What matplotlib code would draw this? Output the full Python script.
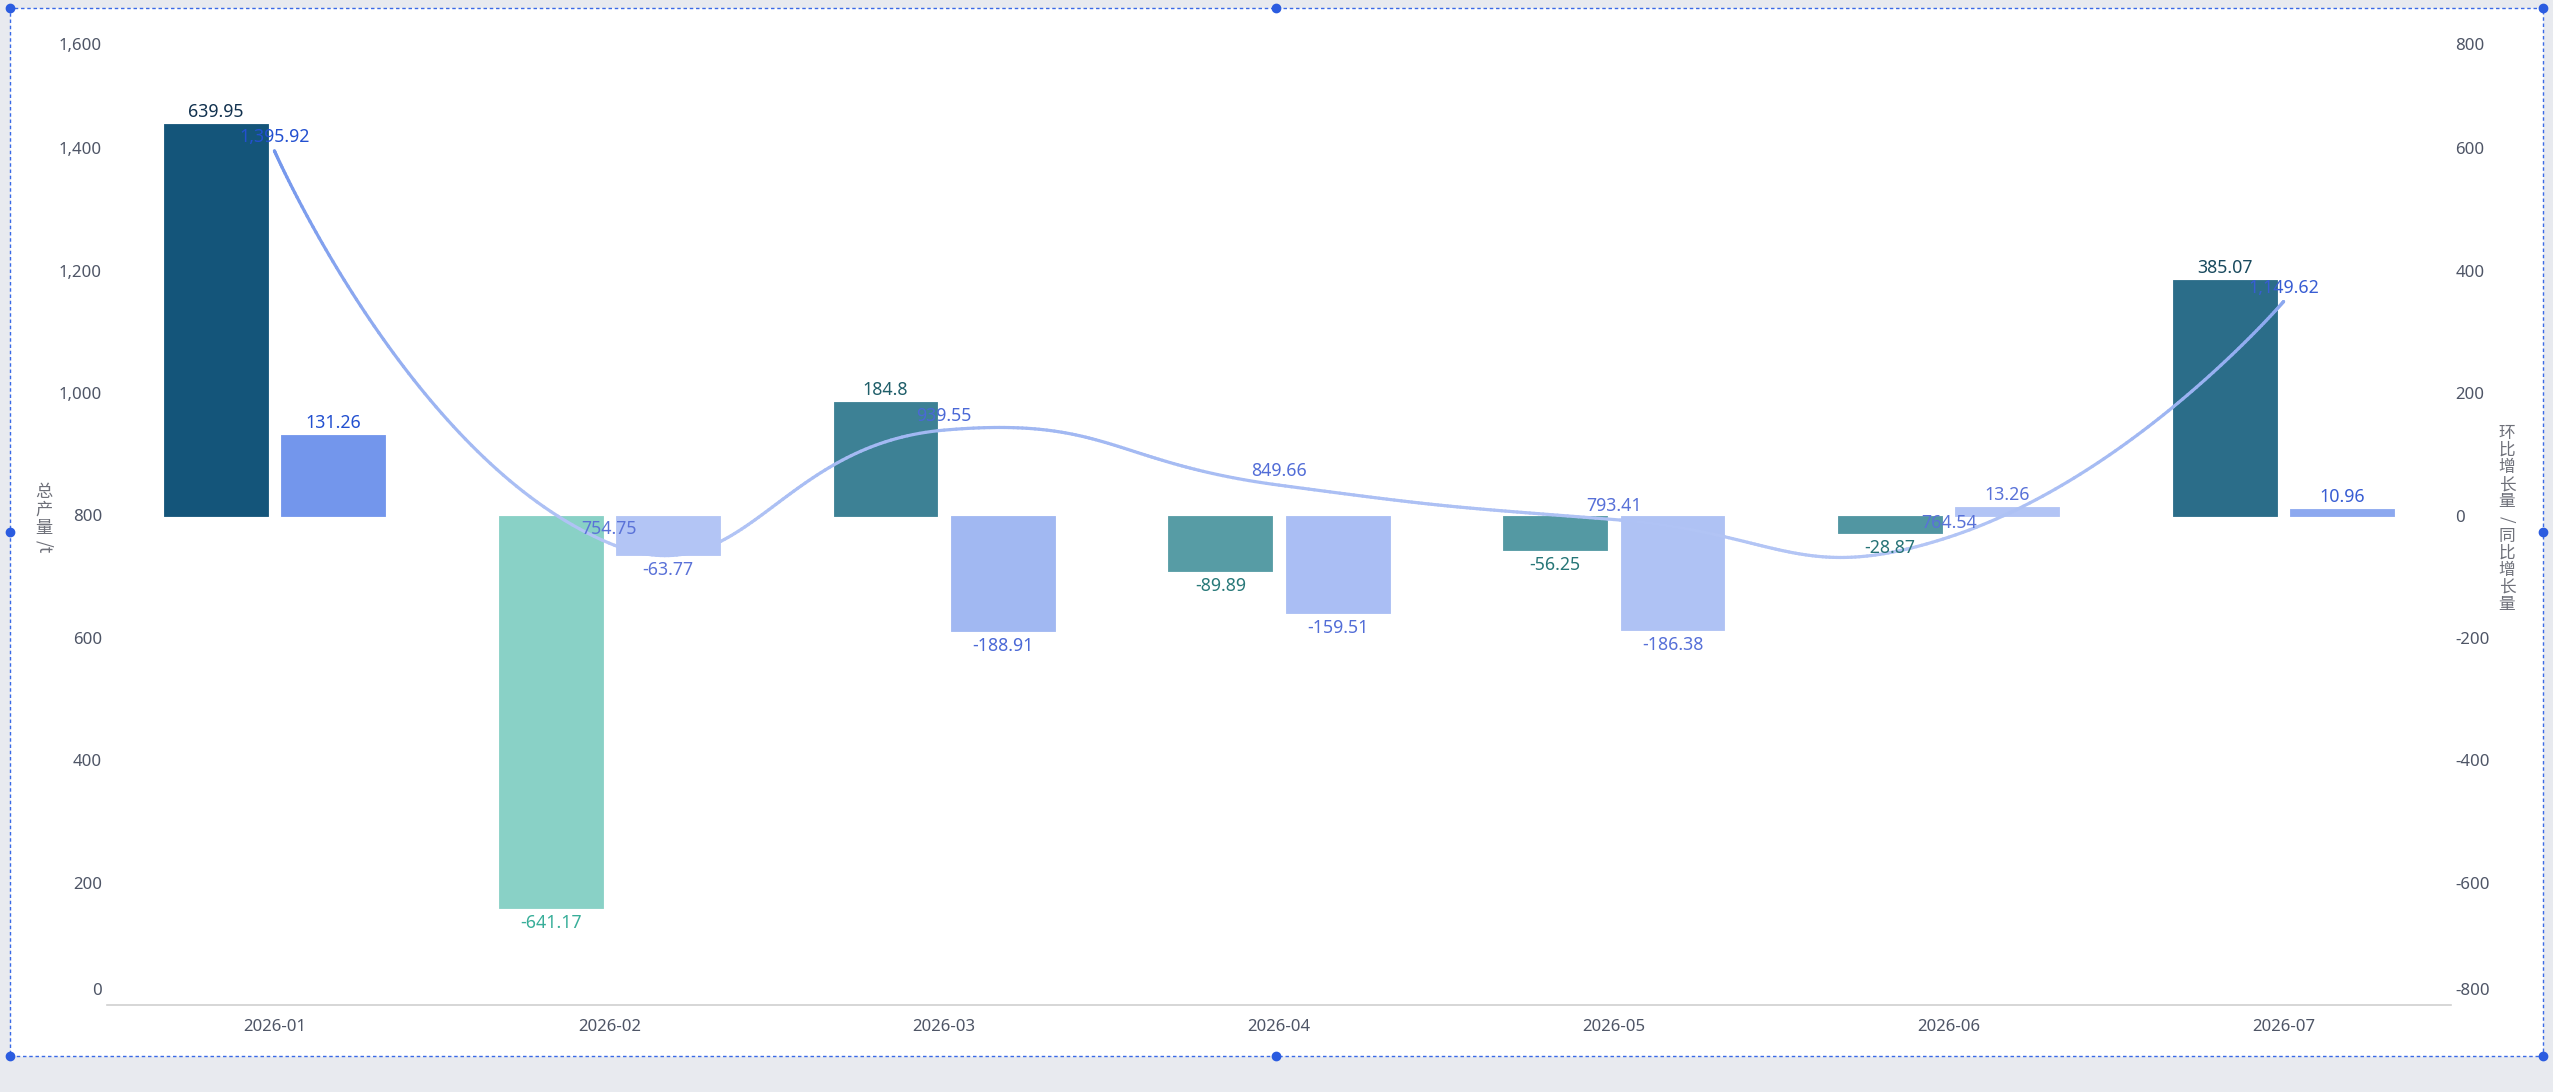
import numpy as np
import matplotlib
matplotlib.use("Agg")
import matplotlib.pyplot as plt
from matplotlib.colors import LinearSegmentedColormap, Normalize
from matplotlib.collections import LineCollection
from matplotlib.patches import Rectangle
from matplotlib.lines import Line2D
import matplotlib.transforms as mtransforms

plt.rcParams['font.family'] = ['Noto Sans', 'Noto Sans CJK SC', 'DejaVu Sans']

# data
months = ["2026-01", "2026-02", "2026-03", "2026-04", "2026-05", "2026-06", "2026-07"]
total = [1395.92, 754.75, 939.55, 849.66, 793.41, 764.54, 1149.62]     # 总产量
mom = [639.95, -641.17, 184.8, -89.89, -56.25, -28.87, 385.07]          # 环比增长量
yoy = [131.26, -63.77, -188.91, -159.51, -186.38, 13.26, 10.96]         # 同比增长量

left_ticks = [0, 200, 400, 600, 800, 1000, 1200, 1400, 1600]
right_ticks = [-800, -600, -400, -200, 0, 200, 400, 600, 800]
left_name = ["总", "产", "量", "/t"]
right_name = ["环", "比", "增", "长", "量", "/", "同", "比", "增", "长", "量"]

W, H = 2553, 1092
fig = plt.figure(figsize=(W / 100, H / 100), dpi=100)
fig.patch.set_facecolor('#e8eaef')

# white card with dashed selection frame
card = Rectangle((10 / W, 1 - 1056 / H), 2533 / W, 1048 / H, transform=fig.transFigure,
                 facecolor='white', edgecolor='#3a6ae6', linewidth=1.0,
                 linestyle=(0, (2.5, 2)), zorder=-1)
fig.add_artist(card)
hx = np.array([10, 1276, 2543, 10, 2543, 10, 1276, 2543]) / W
hy = 1 - np.array([8, 8, 8, 532, 532, 1056, 1056, 1056]) / H
fig.add_artist(Line2D(hx, hy, transform=fig.transFigure, ls='', marker='o', ms=6,
                      color='#2b5ce0', zorder=10))

ax_l, ax_r = 107 / W, 2451 / W
ax_t, ax_b = 26 / H, 1005 / H
ax = fig.add_axes([ax_l, 1 - ax_b, ax_r - ax_l, ax_b - ax_t])
ax2 = ax.twinx()
ax.set_zorder(ax2.get_zorder() + 1)
ax.patch.set_visible(False)
ax2.patch.set_visible(False)

x = np.arange(len(months))
ax.set_xlim(-0.5, len(months) - 0.5)
ax.set_ylim(0, 1600)
ax2.set_ylim(-800, 800)

# colour scales
line_cmap = LinearSegmentedColormap.from_list('line', ['#b3c5f5', '#7396ec'])
line_lab_cmap = LinearSegmentedColormap.from_list('linelab', ['#5a72d8', '#2350d0'])
mom_cmap = LinearSegmentedColormap.from_list('mom', ['#89d1c6', '#14557a'])
mom_lab_cmap = LinearSegmentedColormap.from_list('momlab', ['#38ae99', '#12324f'])
tnorm = Normalize(min(total), max(total))
mnorm = Normalize(min(mom), max(mom))

bw = 0.31
off = 0.175
mom_cols = [mom_cmap(mnorm(v)) for v in mom]
yoy_cols = [line_cmap(tnorm(t)) for t in total]
ax2.bar(x - off, mom, bw, color=mom_cols, edgecolor=mom_cols, linewidth=0.6,
        joinstyle='round', zorder=2)
ax2.bar(x + off, yoy, bw, color=yoy_cols, edgecolor=yoy_cols, linewidth=0.6,
        joinstyle='round', zorder=2)

# smooth line (bezier smoothing like echarts, smooth=0.5) in pixel space
pts = ax.transData.transform(np.column_stack([x, total]))
n = len(pts)
cps = []
for i in range(n):
    if i == 0 or i == n - 1:
        cps.append(pts[i])
        continue
    v = (pts[i + 1] - pts[i - 1]) * 0.5
    d0 = np.hypot(*(pts[i] - pts[i - 1]))
    d1 = np.hypot(*(pts[i] - pts[i + 1]))
    s = d0 + d1
    cps.append(pts[i] - v * d0 / s)
    cps.append(pts[i] + v * d1 / s)
t = np.linspace(0, 1, 80)[:, None]
curve = [pts[:1]]
for i in range(n - 1):
    p0, c0, c1, p1 = pts[i], cps[2 * i], cps[2 * i + 1], pts[i + 1]
    seg = ((1 - t) ** 3) * p0 + 3 * ((1 - t) ** 2) * t * c0 + 3 * (1 - t) * t ** 2 * c1 + t ** 3 * p1
    curve.append(seg[1:])
curve = ax.transData.inverted().transform(np.vstack(curve))
segs = np.stack([curve[:-1], curve[1:]], axis=1)
lc = LineCollection(segs, colors=line_cmap(tnorm(segs[:, :, 1].mean(axis=1))),
                    linewidths=2.3, capstyle='round', zorder=3)
ax.add_collection(lc)

# data labels
fs_lab = 12.8
for i in range(n):
    ax.annotate(f"{total[i]:,.2f}", (x[i], total[i]), xytext=(0, 5), textcoords='offset pixels',
                ha='center', va='bottom', fontsize=fs_lab, color=line_lab_cmap(tnorm(total[i])),
                zorder=5)
    mv = mom[i]
    ax.annotate(f"{mv:g}", (x[i] - off, mv), xycoords=ax2.transData,
                xytext=(0, 3 if mv >= 0 else -6), textcoords='offset pixels',
                ha='center', va='bottom' if mv >= 0 else 'top', fontsize=fs_lab,
                color=mom_lab_cmap(mnorm(mv)), zorder=5)
    yv = yoy[i]
    ax.annotate(f"{yv:g}", (x[i] + off, yv), xycoords=ax2.transData,
                xytext=(0, 3 if yv >= 0 else -6), textcoords='offset pixels',
                ha='center', va='bottom' if yv >= 0 else 'top', fontsize=fs_lab,
                color=line_lab_cmap(tnorm(total[i])), zorder=5)

# axes styling
tick_col = '#4e5566'
fs_tick = 12.1
for a in (ax, ax2):
    for sp in a.spines.values():
        sp.set_visible(False)
ax.spines['bottom'].set_visible(True)
ax.spines['bottom'].set_color('#d0d0d0')
ax.spines['bottom'].set_linewidth(1.2)
ax.set_xticks(x, months)
ax.tick_params(axis='x', length=0, pad=10, labelsize=fs_tick, labelcolor=tick_col)

ax.set_yticks(left_ticks, [''] + [f"{v:,}" for v in left_ticks[1:-1]] + [''])
ax.tick_params(axis='y', length=0, pad=3.6, labelsize=fs_tick, labelcolor=tick_col)
ax2.set_yticks(right_ticks, [''] + [f"{v}" for v in right_ticks[1:-1]] + [''])
ax2.tick_params(axis='y', length=0, pad=3.0, labelsize=fs_tick, labelcolor=tick_col)

# end labels nudged inside the axis range
tl = ax.get_yaxis_transform()
for val, dy in ((left_ticks[0], 14), (left_ticks[-1], -20)):
    ax.text(0, val, f"{val:,}", ha='right', va='center', fontsize=fs_tick, color=tick_col,
            transform=tl + mtransforms.ScaledTranslation(-5 / 100, dy / 100, fig.dpi_scale_trans))
tr = ax2.get_yaxis_transform()
for val, dy in ((right_ticks[0], 14), (right_ticks[-1], -20)):
    ax2.text(1, val, f"{val}", ha='left', va='center', fontsize=fs_tick, color=tick_col,
             transform=tr + mtransforms.ScaledTranslation(4 / 100, dy / 100, fig.dpi_scale_trans))

# axis names, written vertically: CJK upright, latin turned
cjk = ['Noto Sans CJK SC', 'DejaVu Sans']


def vertical_name(xc, y_top, pitch, parts, fs):
    y = y_top
    for p in parts:
        h = pitch if len(p) == 1 else pitch * 0.5 * len(p) + 2
        rot = 0 if '\u4e00' <= p[0] <= '\u9fff' else -90
        fig.text(xc / W, 1 - (y + h / 2) / H, p, rotation=rot, ha='center', va='center',
                 fontsize=fs, color='#6e7079', family=cjk)
        y += h


vertical_name(44, 483, 18, left_name, 12.4)
vertical_name(2507, 425, 17.1, right_name, 12.0)

fig.savefig("out.png", dpi=100, facecolor=fig.get_facecolor())
